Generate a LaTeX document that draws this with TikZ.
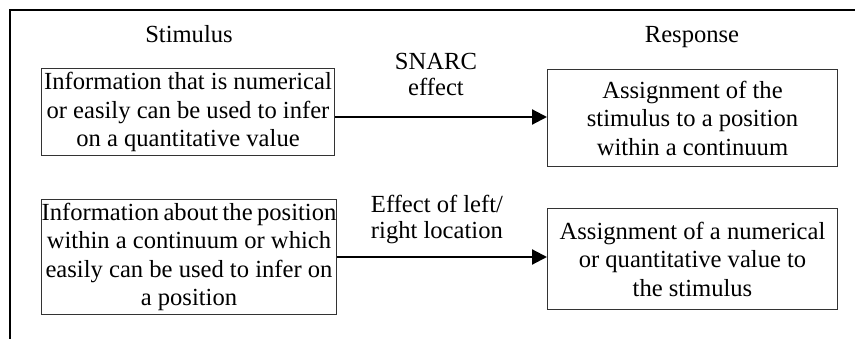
\documentclass[tikz,border=0pt]{standalone}
\usepackage{fontspec}
\setmainfont{Liberation Serif}
\usetikzlibrary{arrows.meta}
\begin{document}
\begin{tikzpicture}[x=1pt,y=-1pt,
  txt/.style={font=\fontsize{24.6}{26}\selectfont, inner sep=0pt},
  boxnode/.style={draw=black!80, line width=1pt, font=\fontsize{24.6}{28.5}\selectfont, align=center, inner sep=0pt, anchor=north west},
  conn/.style={line width=2.2pt, -{Triangle[length=15pt,width=15pt]}},
  frame/.style={line width=2.5pt}]
\useasboundingbox (0,0) rectangle (855,339);
\coordinate (ftr) at (856,10);
\coordinate (ftl) at (10,10);
\coordinate (fbl) at (10,340);
\draw[frame] (ftr) -- (ftl) -- (fbl);
\node[txt, anchor=base] (stim) at (189,43) {Stimulus};
\node[txt, anchor=base] (resp) at (692,43) {Response};
\node[boxnode, minimum width=293pt, minimum height=87pt] (b1) at (41,68) {Information that is numerical\\or easily can be used to infer\\on a quantitative value};
\node[boxnode, minimum width=290pt, minimum height=97pt] (b2) at (547,69) {Assignment of the\\stimulus to a position\\within a continuum};
\node[boxnode, minimum width=295pt, minimum height=115pt] (b3) at (41,199) {\spaceskip=0.18em plus 0.05em minus 0.05em Information about the position\\within a continuum or which\\easily can be used to infer on\\a position};
\node[boxnode, minimum width=290pt, minimum height=101pt] (b4) at (547,208) {Assignment of a numerical\\or quantitative value to\\the stimulus};
\node[txt, align=center] (l1) at (436,74.5) {SNARC\\effect};
\node[txt, align=left] (l2) at (437,219) {Effect of left/\\right location};
\draw[conn] (b1.east |- 0,117) -- (b2.west |- 0,117);
\draw[conn] (b3.east |- 0,257) -- (b4.west |- 0,257);
\end{tikzpicture}
\end{document}
